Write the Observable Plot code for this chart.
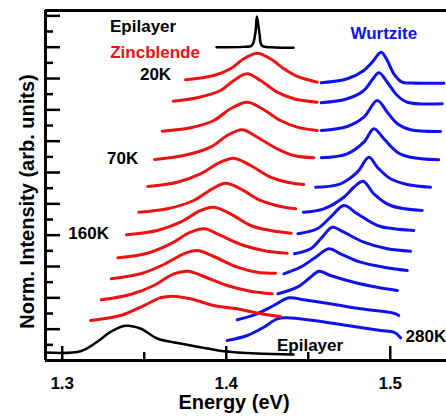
<!DOCTYPE html>
<html><head><meta charset="utf-8">
<script src="https://cdn.jsdelivr.net/npm/d3@7"></script>
<script src="https://cdn.jsdelivr.net/npm/@observablehq/plot@0.6"></script>
<style>html,body{margin:0;padding:0;background:#fff}#chart svg{display:block}</style>
</head><body><div id="chart"></div>
<script>
// Energy (eV) and stacked normalized intensity (arb. units)
const zincblende = [
  [[1.3752,8.959],[1.3924,9.097],[1.4026,9.311],[1.4107,9.630],[1.4189,9.809],[1.4270,9.630],[1.4351,9.311],[1.4433,9.065],[1.4555,8.883]],
  [[1.3677,8.276],[1.3823,8.385],[1.3965,8.618],[1.4046,8.937],[1.4128,9.151],[1.4209,8.937],[1.4311,8.564],[1.4412,8.353],[1.4555,8.244]],
  [[1.3610,7.319],[1.3782,7.427],[1.3924,7.660],[1.4026,8.034],[1.4128,8.244],[1.4220,8.034],[1.4331,7.660],[1.4433,7.447],[1.4555,7.341]],
  [[1.3563,6.416],[1.3741,6.543],[1.3904,6.808],[1.4006,7.182],[1.4098,7.364],[1.4189,7.127],[1.4311,6.757],[1.4412,6.543],[1.4534,6.470]],
  [[1.3522,5.554],[1.3701,5.691],[1.3843,5.959],[1.3965,6.329],[1.4046,6.457],[1.4148,6.224],[1.4270,5.851],[1.4372,5.691],[1.4473,5.618]],
  [[1.3467,4.733],[1.3640,4.842],[1.3802,5.107],[1.3915,5.480],[1.3996,5.659],[1.4087,5.480],[1.4209,5.107],[1.4331,4.915],[1.4423,4.842]],
  [[1.3392,4.012],[1.3579,4.149],[1.3721,4.414],[1.3843,4.788],[1.3924,4.893],[1.4026,4.682],[1.4148,4.309],[1.4270,4.149],[1.4396,4.063]],
  [[1.3339,3.278],[1.3518,3.425],[1.3660,3.725],[1.3782,4.095],[1.3868,4.204],[1.3965,3.990],[1.4107,3.671],[1.4250,3.489],[1.4372,3.425]],
  [[1.3299,2.608],[1.3477,2.767],[1.3620,3.064],[1.3741,3.406],[1.3823,3.511],[1.3924,3.319],[1.4067,2.978],[1.4189,2.818],[1.4301,2.786]],
  [[1.3238,1.937],[1.3416,2.107],[1.3559,2.394],[1.3680,2.767],[1.3766,2.850],[1.3863,2.681],[1.4006,2.394],[1.4148,2.212],[1.4280,2.129]],
  [[1.3173,1.277],[1.3355,1.436],[1.3498,1.755],[1.3599,2.001],[1.3671,2.052],[1.3782,1.969],[1.3924,1.755],[1.4067,1.650],[1.4209,1.491],[1.4331,1.404]]
];
const wurtzite = [
  [[1.4579,8.864],[1.4738,8.991],[1.4839,9.256],[1.4890,9.521],[1.4945,9.840],[1.4982,9.575],[1.5022,9.151],[1.5073,8.883],[1.5130,8.860],[1.5327,8.851]],
  [[1.4579,8.225],[1.4738,8.353],[1.4839,8.618],[1.4890,8.959],[1.4931,9.183],[1.4982,8.883],[1.5043,8.458],[1.5104,8.244],[1.5317,8.193]],
  [[1.4579,7.341],[1.4738,7.469],[1.4839,7.766],[1.4921,8.299],[1.4982,7.925],[1.5043,7.555],[1.5124,7.364],[1.5307,7.309]],
  [[1.4579,6.470],[1.4738,6.598],[1.4839,6.968],[1.4900,7.395],[1.4961,7.076],[1.5043,6.649],[1.5124,6.489],[1.5296,6.406]],
  [[1.4545,5.531],[1.4697,5.640],[1.4799,6.010],[1.4870,6.489],[1.4921,6.170],[1.5002,5.800],[1.5104,5.618],[1.5246,5.531]],
  [[1.4470,4.733],[1.4595,4.842],[1.4717,5.212],[1.4778,5.531],[1.4835,5.723],[1.4900,5.321],[1.5002,4.947],[1.5195,4.788]],
  [[1.4437,4.044],[1.4555,4.204],[1.4636,4.574],[1.4717,4.947],[1.4799,4.682],[1.4921,4.309],[1.5022,4.204],[1.5144,4.149]],
  [[1.4416,3.406],[1.4514,3.565],[1.4585,3.936],[1.4646,4.255],[1.4717,4.095],[1.4839,3.776],[1.4982,3.565],[1.5124,3.489]],
  [[1.4351,2.767],[1.4453,2.978],[1.4545,3.297],[1.4626,3.565],[1.4697,3.406],[1.4819,3.138],[1.4961,2.978],[1.5104,2.873]],
  [[1.4315,2.129],[1.4433,2.340],[1.4514,2.659],[1.4565,2.850],[1.4636,2.713],[1.4778,2.499],[1.4921,2.340],[1.5043,2.234]],
  [[1.4067,1.299],[1.4189,1.491],[1.4290,1.755],[1.4382,2.001],[1.4473,1.937],[1.4636,1.810],[1.4819,1.650],[1.5022,1.510],[1.5052,1.436]],
  [[1.4006,0.638],[1.4128,0.798],[1.4229,1.063],[1.4311,1.331],[1.4372,1.363],[1.4534,1.277],[1.4738,1.117],[1.4941,0.958],[1.5022,0.903],[1.5063,0.725]]
];
const epilayer = [[1.2898,0.255],[1.3112,0.297],[1.3213,0.597],[1.3295,0.916],[1.3386,1.108],[1.3477,1.021],[1.3579,0.702],[1.3721,0.543],[1.3884,0.383],[1.3984,0.297],[1.4187,0.223],[1.4410,0.192]];
const epilayerInset = [[1.3941,10.000],[1.4100,10.010],[1.4156,10.054],[1.4177,10.428],[1.4187,10.980],[1.4203,10.428],[1.4217,10.054],[1.4280,9.995],[1.4410,9.981]];

const xDomain = [1.2898, 1.5343];
const yDomain = [0, 11.171];
const xTickLabels = [1.3, 1.4, 1.5];
const xMinorTicks = [1.35, 1.45];
const yMajorTicks = [1,2,3,4,5,6,7,8,9,10,11];
const yMinorTicks = [0.5,1.5,2.5,3.5,4.5,5.5,6.5,7.5,8.5,9.5,10.5];

const annotations = [
  {text: "Epilayer",   x: 1.3493, y: 10.661, color: "#000"},
  {text: "Zincblende", x: 1.3566, y: 9.840,  color: "#ee1111"},
  {text: "20K",        x: 1.3569, y: 9.129,  color: "#000"},
  {text: "70K",        x: 1.3368, y: 6.447,  color: "#000"},
  {text: "160K",       x: 1.3161, y: 4.054,  color: "#000"},
  {text: "Wurtzite",   x: 1.4961, y: 10.447, color: "#1111ee"},
  {text: "Epilayer",   x: 1.4511, y: 0.488,  color: "#000"},
  {text: "280K",       x: 1.5217, y: 0.776,  color: "#000"}
];

const toRows = (curves, prefix) => curves.flatMap((pts, i) => pts.map(([E, I]) => ({E, I, curve: prefix + i})));
const zbRows = toRows(zincblende, "zb");
const wzRows = toRows(wurtzite, "wz");
const epiRows = toRows([epilayer, epilayerInset], "epi");

const chart = Plot.plot({
  width: 446, height: 416,
  marginTop: 10, marginBottom: 56, marginLeft: 45, marginRight: 0,
  x: {domain: xDomain, label: null},
  y: {domain: yDomain, axis: null},
  style: {fontFamily: "'Liberation Sans', Arial, sans-serif", background: "#fff", color: "#000"},
  marks: [
    Plot.line(wzRows, {x: "E", y: "I", z: "curve", stroke: "#1111ee", strokeWidth: 3, curve: "catmull-rom"}),
    Plot.line(zbRows, {x: "E", y: "I", z: "curve", stroke: "#ee1111", strokeWidth: 3, curve: "catmull-rom"}),
    Plot.line(epiRows, {x: "E", y: "I", z: "curve", stroke: "#000", strokeWidth: 2.5, curve: "catmull-rom"}),
    Plot.tickX(xTickLabels, {x: d => d, insetTop: 336, strokeWidth: 2.5}),
    Plot.tickX(xMinorTicks, {x: d => d, insetTop: 342, strokeWidth: 2.5}),
    Plot.tickY(yMajorTicks, {y: d => d, insetRight: 386, strokeWidth: 2.5}),
    Plot.tickY(yMinorTicks, {y: d => d, insetRight: 393, strokeWidth: 2.5}),
    Plot.ruleX([xDomain[0]], {strokeWidth: 3}),
    Plot.ruleY(yDomain, {strokeWidth: 3}),
    Plot.axisX({ticks: xTickLabels, tickSize: 0, tickPadding: 16, fontSize: 17, fontWeight: "bold", tickFormat: d => d.toFixed(1), label: null}),
    Plot.text(annotations, {x: "x", y: "y", text: "text", fill: "color", fontSize: 17, fontWeight: "bold"}),
    Plot.text(["Energy (eV)"], {text: d => d, frameAnchor: "bottom", textAnchor: "middle", lineAnchor: "middle", dx: -12, dy: 42, fontSize: 20, fontWeight: "bold"}),
    Plot.text(["Norm. Intensity (arb. units)"], {text: d => d, frameAnchor: "left", textAnchor: "middle", lineAnchor: "middle", dx: -18, dy: 16, rotate: -90, fontSize: 20, fontWeight: "bold"})
  ]
});
document.getElementById("chart").append(chart);
</script>
</body></html>
